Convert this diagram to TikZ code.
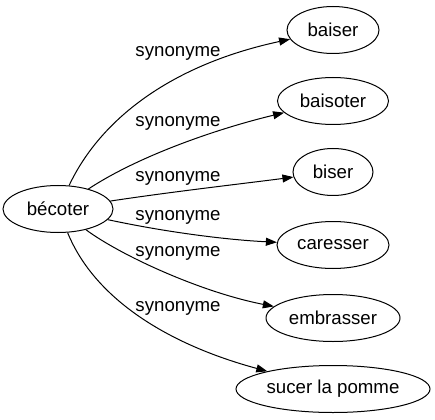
\documentclass[tikz,border=0pt]{standalone}
\usepackage{fontspec}
\setmainfont{Liberation Sans}
\usetikzlibrary{arrows.meta,shapes.geometric}
\begin{document}
\begin{tikzpicture}[x=1pt,y=-1pt,
        word/.style={draw, ellipse, line width=1pt, inner sep=0pt, minimum height=47pt,
                     font=\fontsize{18.67}{22}\selectfont},
        syn/.style={font=\fontsize{18.67}{22}\selectfont},
        edge/.style={line width=1pt, -{Triangle[length=11pt,width=8pt]}}]
        \useasboundingbox (0,0) rectangle (435,419);

        \node[word, minimum width=110pt] (becoter) at (58,209) {bécoter};
        \node[word, minimum width=92pt]  (baiser)    at (333,30)  {baiser};
        \node[word, minimum width=111pt] (baisoter)  at (333,101) {baisoter};
        \node[word, minimum width=80pt]  (biser)     at (333,172) {biser};
        \node[word, minimum width=112pt] (caresser)  at (333,245) {caresser};
        \node[word, minimum width=134pt] (embrasser) at (333,318) {embrasser};
        \node[word, minimum width=194pt] (sucer)     at (333,389) {sucer la pomme};

        \draw[edge] (becoter) .. controls (100,120) and (170,65) .. (baiser);
        \draw[edge] (becoter) .. controls (140,155) and (220,128) .. (baisoter);
        \draw[edge] (becoter) .. controls (170,192) and (240,184) .. (biser);
        \draw[edge] (becoter) .. controls (170,233) and (230,240) .. (caresser);
        \draw[edge] (becoter) .. controls (120,255) and (200,292) .. (embrasser);
        \draw[edge] (becoter) .. controls (95,300) and (170,345) .. (sucer);

        \node[syn] (l1) at (178,53)  {synonyme};
        \node[syn] (l2) at (178,123) {synonyme};
        \node[syn] (l3) at (178,178) {synonyme};
        \node[syn] (l4) at (178,217) {synonyme};
        \node[syn] (l5) at (178,253) {synonyme};
        \node[syn] (l6) at (178,308) {synonyme};
    \end{tikzpicture}
\end{document}
